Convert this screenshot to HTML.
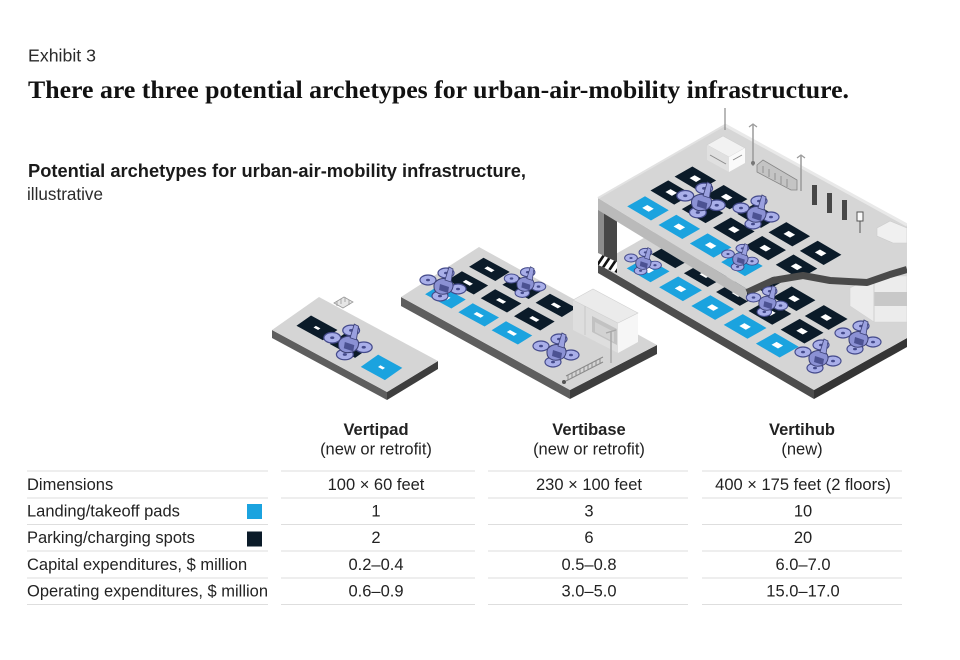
<!DOCTYPE html>
<html>
<head>
<meta charset="utf-8">
<style>
html,body{margin:0;padding:0;background:#fff;}
svg{display:block;}
</style>
</head>
<body>
<svg width="960" height="660" viewBox="0 0 960 660" xmlns="http://www.w3.org/2000/svg">
<defs>
  <g id="dr">
    <path d="M-15,-5 L15,4 M3,-12 L-3,11" stroke="#5a60a6" stroke-width="3" fill="none"/>
    <g fill="#a9afe9" stroke="#454b8c" stroke-width="1.2">
      <ellipse cx="-15" cy="-5" rx="8" ry="5"/>
      <ellipse cx="3" cy="-12" rx="8" ry="5"/>
      <ellipse cx="15" cy="4" rx="8" ry="5"/>
      <ellipse cx="-3" cy="11" rx="8" ry="5"/>
    </g>
    <g fill="#454b8c">
      <ellipse cx="-15" cy="-5" rx="2" ry="1.3"/>
      <ellipse cx="3" cy="-12" rx="2" ry="1.3"/>
      <ellipse cx="15" cy="4" rx="2" ry="1.3"/>
      <ellipse cx="-3" cy="11" rx="2" ry="1.3"/>
    </g>
    <path d="M-9,2 C-10,-6 2,-9 8,-4 C12,0 10,8 2,9 C-4,10 -9,7 -9,2Z" fill="#8b91d4" stroke="#3c4175" stroke-width="1"/>
    <path d="M-3,-1 L6,2 L5,8 L-4,5Z" fill="#4c5292"/>
    <path d="M2,-5 L6,-18 L10,-16 L8,-3Z" fill="#9aa0df" stroke="#3c4175" stroke-width="0.8"/>
  </g>
  <clipPath id="zc"><polygon points="598,253 617,262 617,273 598,265"/></clipPath>
  <clipPath id="hubclip"><rect x="0" y="0" width="907" height="660"/></clipPath>
</defs>

<rect x="0" y="0" width="960" height="660" fill="#ffffff"/>

<!-- Header texts -->
<text x="28" y="61.5" font-family="'Liberation Sans', sans-serif" font-size="17.5" fill="#2a2a2a" textLength="68" lengthAdjust="spacingAndGlyphs">Exhibit 3</text>
<text x="28" y="98" font-family="'Liberation Serif', serif" font-weight="bold" font-size="25" fill="#111" textLength="821" lengthAdjust="spacingAndGlyphs">There are three potential archetypes for urban-air-mobility infrastructure.</text>
<text x="28" y="177" font-family="'Liberation Sans', sans-serif" font-weight="bold" font-size="18" fill="#1a1a1a" textLength="498" lengthAdjust="spacingAndGlyphs">Potential archetypes for urban-air-mobility infrastructure,</text>
<text x="27" y="200" font-family="'Liberation Sans', sans-serif" font-size="17.5" fill="#2a2a2a" textLength="76" lengthAdjust="spacingAndGlyphs">illustrative</text>

<!-- ============ VERTIPAD ============ -->
<polygon points="272,330 387,392 387,400 272,338" fill="#5e5e5e"/>
<polygon points="387,392 438,361 438,369 387,400" fill="#3e3e3e"/>
<polygon points="272,330 319,297 438,361 387,392" fill="#d5d5d5"/>
<g transform="matrix(1.15,0.63,0.47,-0.33,272,330)">
  <rect x="9" y="30" width="23" height="31" fill="#0b1b29"/>
  <rect x="38" y="30" width="22" height="31" fill="#0b1b29"/>
  <rect x="69" y="20" width="21" height="37" fill="#1ba3df"/>
  <rect x="18.5" y="43" width="4" height="5" fill="#fff"/>
  <rect x="77.5" y="36" width="4" height="5" fill="#fff"/>
</g>
<!-- bench -->
<polygon points="334,303 344,297 353,302 343,308" fill="#e6e6e6" stroke="#9a9a9a" stroke-width="0.8"/>
<path d="M337,301 L337,306 M341,299 L341,304 M345,297 L345,302 M349,300 L349,305" stroke="#9a9a9a" stroke-width="0.8"/>
<use href="#dr" transform="translate(348,343) scale(1.05)"/>

<!-- ============ VERTIBASE ============ -->
<polygon points="401,297 570,390 570,399 401,306" fill="#5e5e5e"/>
<polygon points="570,390 657,345 657,354 570,399" fill="#3e3e3e"/>
<polygon points="401,297 479,247 657,345 570,390" fill="#d5d5d5"/>
<g transform="matrix(1.75,0.95,0.8,-0.5,401,297)">
  <g fill="#1ba3df">
    <rect x="6" y="17" width="15" height="18"/>
    <rect x="25" y="17" width="15" height="18"/>
    <rect x="44" y="17" width="15" height="18"/>
  </g>
  <g fill="#0b1b29">
    <rect x="6" y="45" width="15" height="18"/>
    <rect x="25" y="45" width="15" height="18"/>
    <rect x="44" y="45" width="15" height="18"/>
    <rect x="6" y="72" width="15" height="18"/>
    <rect x="25" y="72" width="15" height="18"/>
    <rect x="44" y="72" width="15" height="18"/>
  </g>
  <g fill="#fff">
    <rect x="11.5" y="24" width="4" height="4"/>
    <rect x="30.5" y="24" width="4" height="4"/>
    <rect x="49.5" y="24" width="4" height="4"/>
    <rect x="11.5" y="52" width="4" height="4"/>
    <rect x="30.5" y="52" width="4" height="4"/>
    <rect x="49.5" y="52" width="4" height="4"/>
    <rect x="11.5" y="79" width="4" height="4"/>
    <rect x="30.5" y="79" width="4" height="4"/>
    <rect x="49.5" y="79" width="4" height="4"/>
  </g>
</g>
<!-- building -->
<polygon points="573,300 618,323 618,353 573,330" fill="#dedede"/>
<polygon points="618,323 638,313 638,342 618,353" fill="#f6f6f6"/>
<polygon points="573,300 593,289 638,313 618,323" fill="#ebebeb" stroke="#d0d0d0" stroke-width="0.6"/>
<polygon points="592,316 617,329 617,345 592,332" fill="#c2c2c2"/>
<polygon points="595,322 614,332 614,342 595,332" fill="#d2d2d2"/>
<line x1="585" y1="306" x2="585" y2="335" stroke="#c8c8c8" stroke-width="1"/>
<line x1="611" y1="331" x2="611" y2="363" stroke="#a8a8a8" stroke-width="1.5"/>
<path d="M606,333 L616,330" stroke="#a8a8a8" stroke-width="1.2"/>
<!-- fence -->
<path d="M566,376 L603,357 M566,381 L603,362" stroke="#8a8a8a" stroke-width="1" fill="none"/>
<path d="M568,375 L568,380 M572,373 L572,378 M576,371 L576,376 M580,369 L580,374 M584,367 L584,372 M588,365 L588,370 M592,363 L592,368 M596,361 L596,366 M600,359 L600,364" stroke="#8a8a8a" stroke-width="1"/>
<circle cx="564" cy="382" r="2" fill="#555"/>
<use href="#dr" transform="translate(443,285) scale(1.0)"/>
<use href="#dr" transform="translate(525,283) scale(0.9)"/>
<use href="#dr" transform="translate(556,351) scale(1.0)"/>

<!-- ============ VERTIHUB ============ -->
<g clip-path="url(#hubclip)">
<!-- lower slab -->
<polygon points="598,264 814,390 814,399 598,273" fill="#4d4d4d"/>
<polygon points="814,390 907,338 907,347 814,399" fill="#353535"/>
<polygon points="598,264 814,390 907,338 907,230 725,192" fill="#d5d5d5"/>
<g transform="matrix(2.16,1.26,1.27,-0.72,598,264)">
  <g fill="#1ba3df">
    <rect x="8.3" y="8.5" width="11" height="15"/>
    <rect x="23.3" y="8.5" width="11" height="15"/>
    <rect x="38.2" y="8.5" width="11" height="15"/>
    <rect x="53.2" y="8.5" width="11" height="15"/>
    <rect x="68.1" y="8.5" width="11" height="15"/>
  </g>
  <g fill="#0b1b29">
    <rect x="8.3" y="28" width="11" height="15"/>
    <rect x="23.3" y="28" width="11" height="15"/>
    <rect x="38.2" y="28" width="11" height="15"/>
    <rect x="53.2" y="28" width="11" height="15"/>
    <rect x="68.1" y="28" width="11" height="15"/>
    <rect x="8.3" y="47" width="11" height="15"/>
    <rect x="23.3" y="47" width="11" height="15"/>
    <rect x="38.2" y="47" width="11" height="15"/>
    <rect x="53.2" y="47" width="11" height="15"/>
    <rect x="68.1" y="47" width="11" height="15"/>
  </g>
  <g fill="#fff">
    <rect x="12.3" y="14" width="3" height="4"/>
    <rect x="27.3" y="14" width="3" height="4"/>
    <rect x="42.2" y="14" width="3" height="4"/>
    <rect x="57.2" y="14" width="3" height="4"/>
    <rect x="72.1" y="14" width="3" height="4"/>
    <rect x="27.3" y="33.5" width="3" height="4"/>
    <rect x="42.2" y="33.5" width="3" height="4"/>
    <rect x="57.2" y="33.5" width="3" height="4"/>
    <rect x="72.1" y="33.5" width="3" height="4"/>
    <rect x="57.2" y="52.5" width="3" height="4"/>
    <rect x="72.1" y="52.5" width="3" height="4"/>
  </g>
</g>
<!-- lower right building -->
<polygon points="850,288 874,276 907,276 907,322 874,322 850,306" fill="#ececec" stroke="#d2d2d2" stroke-width="0.6"/>
<polygon points="874,292 907,292 907,306 874,306" fill="#c8c8c8"/>
<line x1="874" y1="276" x2="874" y2="322" stroke="#d0d0d0" stroke-width="1"/>
<use href="#dr" transform="translate(643,262) scale(0.8)"/>
<use href="#dr" transform="translate(818,357) scale(1.0)"/>
<use href="#dr" transform="translate(858,338) scale(1.0)"/>

<!-- pillar -->
<polygon points="598,205 604,208 604,262 598,259" fill="#8c8c8c"/>
<polygon points="604,208 617,216 617,268 604,262" fill="#474747"/>
<!-- zebra -->
<polygon points="598,253 617,262 617,273 598,265" fill="#fff"/>
<g clip-path="url(#zc)" stroke="#111" stroke-width="2.6">
  <line x1="594" y1="270" x2="606" y2="252"/>
  <line x1="600" y1="272" x2="612" y2="254"/>
  <line x1="606" y1="275" x2="618" y2="257"/>
  <line x1="612" y1="278" x2="624" y2="260"/>
</g>

<!-- upper slab -->
<polygon points="598,198 747,289 747,301 598,210" fill="#bababa"/>
<polygon points="598,198 725,125 907,225 907,266 890,271 867,279 830,277 803,272 773,277 747,289" fill="#d6d6d6"/>
<line x1="725" y1="125" x2="907" y2="225" stroke="#e9e9e9" stroke-width="3"/>
<line x1="598" y1="198" x2="725" y2="125" stroke="#e2e2e2" stroke-width="2"/>
<g transform="matrix(2.16,1.28,1.27,-0.73,598,198)">
  <g fill="#1ba3df">
    <rect x="10" y="6" width="11" height="14"/>
    <rect x="24.5" y="6" width="11" height="14"/>
    <rect x="39" y="6" width="11" height="14"/>
    <rect x="53.5" y="6" width="11" height="14"/>
  </g>
  <g fill="#0b1b29">
    <rect x="9" y="26" width="11" height="14"/>
    <rect x="23.5" y="26" width="11" height="14"/>
    <rect x="38" y="26" width="11" height="14"/>
    <rect x="52.5" y="26" width="11" height="14"/>
    <rect x="67" y="26" width="11" height="14"/>
    <rect x="9" y="45" width="11" height="14"/>
    <rect x="23.5" y="45" width="11" height="14"/>
    <rect x="38" y="45" width="11" height="14"/>
    <rect x="52.5" y="45" width="11" height="14"/>
    <rect x="67" y="45" width="11" height="14"/>
  </g>
  <g fill="#fff">
    <rect x="14" y="11" width="3" height="4"/>
    <rect x="28.5" y="11" width="3" height="4"/>
    <rect x="43" y="11" width="3" height="4"/>
    <rect x="13" y="31" width="3" height="4"/>
    <rect x="42" y="31" width="3" height="4"/>
    <rect x="56.5" y="31" width="3" height="4"/>
    <rect x="71" y="31" width="3" height="4"/>
    <rect x="13" y="50" width="3" height="4"/>
    <rect x="27.5" y="50" width="3" height="4"/>
    <rect x="42" y="50" width="3" height="4"/>
    <rect x="56.5" y="50" width="3" height="4"/>
    <rect x="71" y="50" width="3" height="4"/>
  </g>
</g>
<!-- ramp band -->
<polyline points="747,292.5 773,280.5 803,275.5 830,280.5 867,282.5 890,274.5 907,269.5" fill="none" stroke="#4a4a4a" stroke-width="7" stroke-linejoin="round"/>

<!-- upper objects -->
<line x1="725" y1="108" x2="725" y2="130" stroke="#8a8a8a" stroke-width="1.2"/>
<polygon points="707,145 723,136 745,148 729,157" fill="#f2f2f2" stroke="#cfcfcf" stroke-width="0.6"/>
<polygon points="707,145 729,157 729,172 707,160" fill="#e0e0e0"/>
<polygon points="729,157 745,148 745,163 729,172" fill="#fafafa"/>
<line x1="710" y1="155" x2="726" y2="164" stroke="#8a8a8a" stroke-width="1"/>
<line x1="733" y1="160" x2="742" y2="155" stroke="#8a8a8a" stroke-width="1"/>
<line x1="753" y1="125" x2="753" y2="166" stroke="#9a9a9a" stroke-width="1.5"/>
<path d="M749,127 L753,124 L757,127" stroke="#9a9a9a" stroke-width="1.2" fill="none"/>
<circle cx="753" cy="163" r="2" fill="#777"/>
<line x1="801" y1="156" x2="801" y2="191" stroke="#9a9a9a" stroke-width="1.5"/>
<path d="M797,158 L801,155 L805,158" stroke="#9a9a9a" stroke-width="1.2" fill="none"/>
<polygon points="757,165 763,160 797,180 797,190 791,190 757,172" fill="#c4c4c4" stroke="#858585" stroke-width="0.8"/>
<path d="M763,166 L763,173 M769,169 L769,177 M775,173 L775,180 M781,176 L781,184 M787,179 L787,187" stroke="#858585" stroke-width="0.8"/>
<rect x="812" y="185" width="5" height="20" fill="#474747"/>
<rect x="827" y="193" width="5" height="20" fill="#474747"/>
<rect x="842" y="200" width="5" height="20" fill="#474747"/>
<rect x="857" y="212" width="6" height="9" fill="#fafafa" stroke="#555" stroke-width="1"/>
<line x1="860" y1="221" x2="860" y2="233" stroke="#555" stroke-width="1"/>
<polygon points="877,228 890,221 907,228 907,243 893,243 877,236" fill="#f0f0f0" stroke="#cccccc" stroke-width="0.6"/>

<use href="#dr" transform="translate(701,201) scale(1.05)"/>
<use href="#dr" transform="translate(756,213) scale(1.0)"/>
<use href="#dr" transform="translate(740,258) scale(0.8)"/>
<use href="#dr" transform="translate(767,302) scale(0.9)"/>
</g>

<!-- ============ TABLE ============ -->
<g font-family="'Liberation Sans', sans-serif" fill="#222">
  <text x="376" y="435" font-size="16.5" font-weight="bold" text-anchor="middle">Vertipad</text>
  <text x="376" y="454.5" font-size="16.5" text-anchor="middle">(new or retrofit)</text>
  <text x="589" y="435" font-size="16.5" font-weight="bold" text-anchor="middle">Vertibase</text>
  <text x="589" y="454.5" font-size="16.5" text-anchor="middle">(new or retrofit)</text>
  <text x="802" y="435" font-size="16.5" font-weight="bold" text-anchor="middle">Vertihub</text>
  <text x="802" y="454.5" font-size="16.5" text-anchor="middle">(new)</text>
</g>

<g stroke="#dedede" stroke-width="1">
  <line x1="27" y1="471" x2="268" y2="471"/>
  <line x1="281" y1="471" x2="475" y2="471"/>
  <line x1="488" y1="471" x2="688" y2="471"/>
  <line x1="702" y1="471" x2="902" y2="471"/>
  <line x1="27" y1="498" x2="268" y2="498"/>
  <line x1="281" y1="498" x2="475" y2="498"/>
  <line x1="488" y1="498" x2="688" y2="498"/>
  <line x1="702" y1="498" x2="902" y2="498"/>
  <line x1="27" y1="524.5" x2="268" y2="524.5"/>
  <line x1="281" y1="524.5" x2="475" y2="524.5"/>
  <line x1="488" y1="524.5" x2="688" y2="524.5"/>
  <line x1="702" y1="524.5" x2="902" y2="524.5"/>
  <line x1="27" y1="551" x2="268" y2="551"/>
  <line x1="281" y1="551" x2="475" y2="551"/>
  <line x1="488" y1="551" x2="688" y2="551"/>
  <line x1="702" y1="551" x2="902" y2="551"/>
  <line x1="27" y1="578" x2="268" y2="578"/>
  <line x1="281" y1="578" x2="475" y2="578"/>
  <line x1="488" y1="578" x2="688" y2="578"/>
  <line x1="702" y1="578" x2="902" y2="578"/>
  <line x1="27" y1="604.5" x2="268" y2="604.5"/>
  <line x1="281" y1="604.5" x2="475" y2="604.5"/>
  <line x1="488" y1="604.5" x2="688" y2="604.5"/>
  <line x1="702" y1="604.5" x2="902" y2="604.5"/>
</g>

<rect x="247" y="504" width="15" height="15" fill="#1ba3df"/>
<rect x="247" y="531.5" width="15" height="15" fill="#0b1b29"/>

<g font-family="'Liberation Sans', sans-serif" font-size="16.5" fill="#222">
  <text x="27" y="490">Dimensions</text>
  <text x="27" y="516.5">Landing/takeoff pads</text>
  <text x="27" y="543">Parking/charging spots</text>
  <text x="27" y="570">Capital expenditures, $ million</text>
  <text x="27" y="596.5" textLength="241" lengthAdjust="spacingAndGlyphs">Operating expenditures, $ million</text>

  <g text-anchor="middle">
    <text x="376" y="490">100 × 60 feet</text>
    <text x="376" y="516.5">1</text>
    <text x="376" y="543">2</text>
    <text x="376" y="570">0.2–0.4</text>
    <text x="376" y="596.5">0.6–0.9</text>

    <text x="589" y="490">230 × 100 feet</text>
    <text x="589" y="516.5">3</text>
    <text x="589" y="543">6</text>
    <text x="589" y="570">0.5–0.8</text>
    <text x="589" y="596.5">3.0–5.0</text>

    <text x="803" y="490">400 × 175 feet (2 floors)</text>
    <text x="803" y="516.5">10</text>
    <text x="803" y="543">20</text>
    <text x="803" y="570">6.0–7.0</text>
    <text x="803" y="596.5">15.0–17.0</text>
  </g>
</g>
</svg>
</body>
</html>
